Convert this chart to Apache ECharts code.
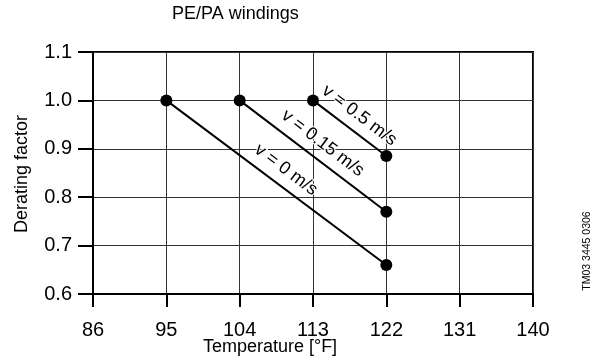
<!DOCTYPE html>
<html><head><meta charset="utf-8">
<script src="https://cdn.jsdelivr.net/npm/echarts@6/dist/echarts.min.js"></script>
<style>html,body{margin:0;padding:0;background:#fff}#c{width:599px;height:358px}</style>
</head><body><div id="c"></div>
<script>
const tempTicks = [86, 95, 104, 113, 122, 131, 140];
const factorTicks = [0.6, 0.7, 0.8, 0.9, 1.0, 1.1];
const seriesNames = ['v = 0 m/s', 'v = 0.15 m/s', 'v = 0.5 m/s'];
const startTemps = [95, 104, 113];
const startFactors = [1.0, 1.0, 1.0];
const endTemps = [122, 122, 122];
const endFactors = [0.66, 0.77, 0.885];

const FONT = 'Liberation Sans, Arial, sans-serif';
const chart = echarts.init(document.getElementById('c'));

const series = seriesNames.map((name, i) => {
  const p0 = [startTemps[i], startFactors[i]];
  const p1 = [endTemps[i], endFactors[i]];
  return {
    name: name,
    type: 'line',
    data: [p0, p1],
    symbol: 'circle',
    symbolSize: 12,
    itemStyle: { color: '#000' },
    lineStyle: { color: '#000', width: 2 },
    animation: false,
    z: 3,
    markLine: {
      silent: true,
      symbol: 'none',
      animation: false,
      z: 2,
      lineStyle: { color: 'rgba(0,0,0,0)', width: 0, type: 'solid' },
      label: {
        show: true,
        position: 'insideMiddleTop',
        formatter: name,
        distance: 7,
        color: '#000',
        fontFamily: FONT,
        fontSize: 18,
        textBorderColor: '#fff',
        textBorderWidth: 2
      },
      data: [[{ coord: p0 }, { coord: p1 }]]
    }
  };
});

chart.setOption({
  backgroundColor: '#fff',
  animation: false,
  grid: { left: 93, right: 66, top: 52, bottom: 64, show: true, borderColor: '#000', borderWidth: 2 },
  xAxis: {
    type: 'value',
    min: tempTicks[0],
    max: tempTicks[tempTicks.length - 1],
    interval: tempTicks[1] - tempTicks[0],
    axisLine: { show: true, lineStyle: { color: '#000', width: 2 } },
    axisTick: { show: true, inside: false, length: 13, lineStyle: { color: '#000', width: 2 } },
    axisLabel: { color: '#000', fontFamily: FONT, fontSize: 20, margin: 26 },
    splitLine: { show: true, lineStyle: { color: '#333', width: 1 } }
  },
  yAxis: {
    type: 'value',
    min: factorTicks[0],
    max: factorTicks[factorTicks.length - 1],
    interval: 0.1,
    axisLine: { show: true, lineStyle: { color: '#000', width: 2 } },
    axisTick: { show: true, inside: false, length: 15, lineStyle: { color: '#000', width: 2 } },
    axisLabel: { color: '#000', fontFamily: FONT, fontSize: 20, margin: 21, formatter: v => v.toFixed(1) },
    splitLine: { show: true, lineStyle: { color: '#333', width: 1 } }
  },
  graphic: [
    { type: 'text', left: 172, top: 5, style: { text: 'PE/PA windings', font: '18px ' + FONT, fill: '#000' } },
    { type: 'text', x: 270, y: 347, style: { text: 'Temperature [°F]', font: '18px ' + FONT, fill: '#000', textAlign: 'center', textVerticalAlign: 'middle' } },
    { type: 'text', x: 22, y: 174, rotation: Math.PI / 2, style: { text: 'Derating factor', font: '18px ' + FONT, fill: '#000', textAlign: 'center', textVerticalAlign: 'middle' } },
    { type: 'text', x: 587, y: 251, rotation: Math.PI / 2, style: { text: 'TM03 3445 0306', font: '10.5px ' + FONT, fill: '#000', textAlign: 'center', textVerticalAlign: 'middle' } }
  ],
  series: series
});
</script></body></html>
